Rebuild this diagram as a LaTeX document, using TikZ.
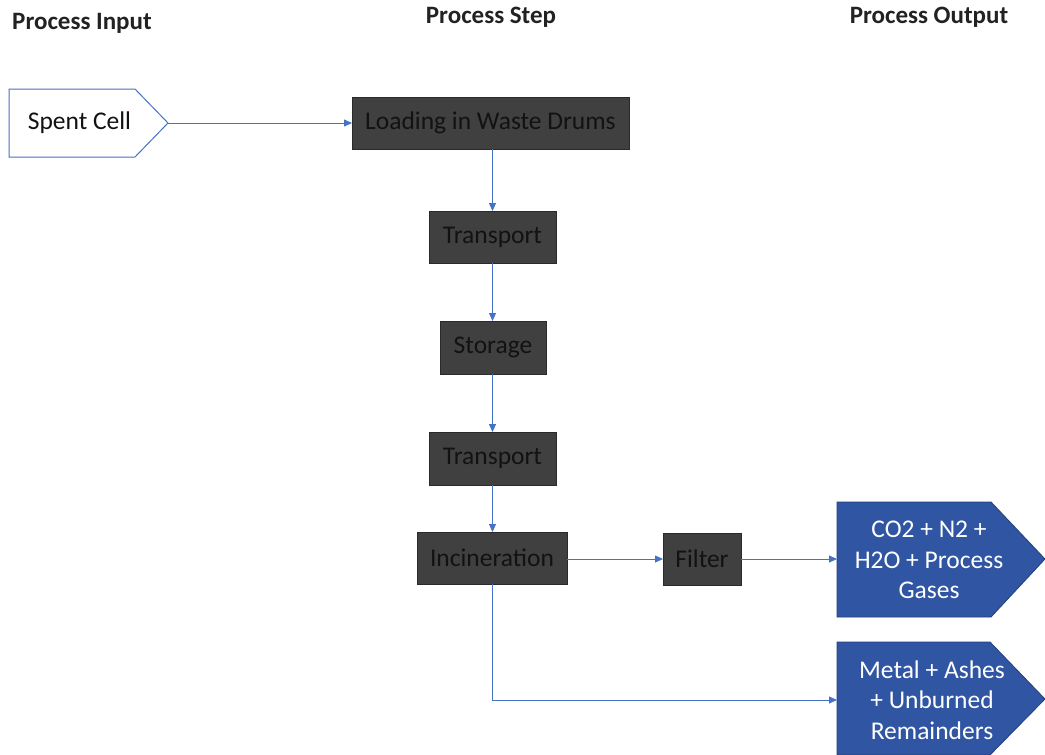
\documentclass[tikz,border=0pt]{standalone}
\usepackage{fontspec}
\setmainfont{Carlito}
\usetikzlibrary{arrows.meta}
\definecolor{lineblue}{HTML}{4472C4}
\definecolor{boxgray}{HTML}{404040}
\definecolor{boxedge}{HTML}{2A2A2A}
\definecolor{outblue}{HTML}{2F55A3}
\definecolor{outedge}{HTML}{233F7C}
\definecolor{txtdark}{HTML}{121212}
\definecolor{hdr}{HTML}{222222}
\begin{document}
\begin{tikzpicture}[x=1pt,y=-1pt,
  every node/.style={inner sep=0pt,outer sep=0pt},
  stepbox/.style={draw=boxedge,line width=0.8pt,fill=boxgray,text=txtdark,
    font=\fontsize{25.5}{29}\selectfont,anchor=north west},
  header/.style={font=\bfseries\fontsize{25}{29}\selectfont,text=hdr},
  conn/.style={draw=lineblue,line width=0.8pt,-{Triangle[length=8pt,width=7pt]}},
  outtext/.style={text=white,align=center,font=\fontsize{25.5}{30.5}\selectfont},
]
\useasboundingbox (0,0) rectangle (1045,755);

% headers
\node[header] (h1) at (82,23) {Process Input};
\node[header] (h2) at (491,17) {Process Step};
\node[header] (h3) at (929,17) {Process Output};

% input signal
\draw[lineblue,line width=1pt,fill=white] (9,89) -- (135,89) -- (168,123) -- (135,157) -- (9,157) -- cycle;
\coordinate (inTip) at (168,123);
\node[font=\fontsize{25.5}{29}\selectfont,text=txtdark] (spent) at (79.5,123) {Spent Cell};

% process steps
\node[stepbox,minimum width=277pt,minimum height=52pt] (load) at (352,97) {Loading in Waste Drums};
\node[stepbox,minimum width=127pt,minimum height=52pt] (tr1) at (429,211) {Transport};
\node[stepbox,minimum width=106pt,minimum height=53pt] (stor) at (440,321) {Storage};
\node[stepbox,minimum width=127pt,minimum height=53pt] (tr2) at (429,432) {Transport};
\node[stepbox,minimum width=150pt,minimum height=52pt] (inc) at (417,532) {Incineration};
\node[stepbox,minimum width=78pt,minimum height=52pt] (filt) at (663,533) {Filter};

% outputs
\draw[outedge,line width=0.8pt,fill=outblue] (837,502) -- (991,502) -- (1045,559) -- (991,617) -- (837,617) -- cycle;
\coordinate (out1in) at (837,559);
\node[outtext] (out1) at (929,560) {CO2 + N2 +\\H2O + Process\\Gases};
\draw[outedge,line width=0.8pt,fill=outblue] (837,642) -- (990,642) -- (1045,699) -- (990,755) -- (837,755) -- cycle;
\coordinate (out2in) at (837,700);
\node[outtext] (out2) at (932,700) {Metal + Ashes\\+ Unburned\\Remainders};

% connectors
\draw[conn] (inTip) -- (load.west);
\draw[conn] (load.south -| tr1.north) -- (tr1.north);
\draw[conn] (tr1.south) -- (stor.north -| tr1.south);
\draw[conn] (stor.south -| tr1.south) -- (tr2.north);
\draw[conn] (tr2.south) -- (inc.north -| tr2.south);
\draw[conn] (inc.east |- filt.west) -- (filt.west);
\draw[conn] (filt.east) -- (out1in);
\coordinate (bend) at (inc.south -| tr2.south);
\draw[conn] (bend) |- (out2in);
\end{tikzpicture}
\end{document}
